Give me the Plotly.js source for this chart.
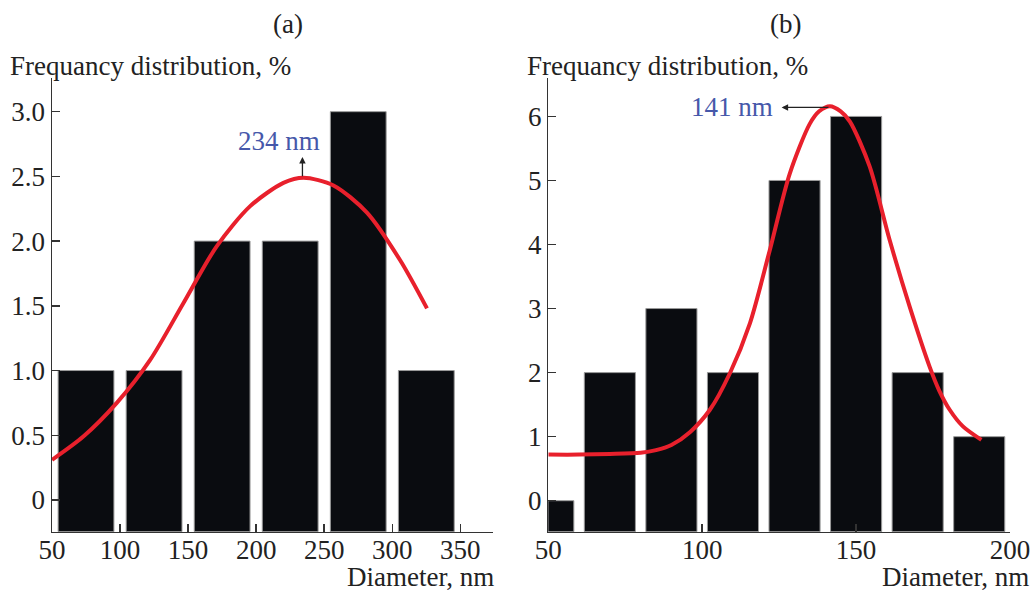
<!DOCTYPE html>
<html>
<head>
<meta charset="utf-8">
<script src="https://cdn.plot.ly/plotly-3.0.1.min.js"></script>
<style>html,body{margin:0;padding:0;background:#fff;}#chart{width:1031px;height:591px;}</style>
</head>
<body>
<div id="chart"></div>
<script>
// ---------- Data ----------
// Panel (a)
const diamA = [75, 125, 175, 225, 275, 325];
const freqA = [1, 1, 2, 2, 3, 1];
const fitXA = [50, 73, 97.6, 122, 146.5, 171, 195.6, 220, 234.8, 256.8, 281.4, 305.9, 325.5];
const fitYA = [0.31, 0.49, 0.75, 1.08, 1.52, 1.96, 2.27, 2.45, 2.49, 2.43, 2.22, 1.85, 1.48];
const xTicksA = [50, 100, 150, 200, 250, 300, 350];
const yTicksA = [0, 0.5, 1.0, 1.5, 2.0, 2.5, 3.0];
const yTickTextA = ['0', '0.5', '1.0', '1.5', '2.0', '2.5', '3.0'];
const peakA = 234;
const peakLabelA = '234 nm';

// Panel (b)
const diamB = [50, 70, 90, 110, 130, 150, 170, 190];
const freqB = [0, 2, 3, 2, 5, 6, 2, 1];
const fitXB = [50, 60, 70, 80, 85, 90, 96, 102.5, 109, 115.5, 122, 128.4, 134.9, 138, 141.5, 145, 148, 154.4, 160.9, 167.4, 173.9, 177, 180.4, 184.7, 190.7];
const fitYB = [0.72, 0.72, 0.73, 0.75, 0.79, 0.87, 1.07, 1.42, 1.99, 2.77, 3.92, 5.1, 5.88, 6.08, 6.16, 6.08, 5.92, 5.22, 4.07, 3.03, 2.09, 1.72, 1.42, 1.16, 0.95];
const xTicksB = [50, 100, 150, 200];
const yTicksB = [0, 1, 2, 3, 4, 5, 6];
const peakB = 141.5;
const peakLabelB = '141 nm';

// ---------- Styling ----------
const FONT = 'Liberation Serif, Times New Roman, serif';
const FS = 27;
const TXT = '#222222';
const BLUE = '#4658aa';
const RED = '#e8202c';
const yRangeA = [-0.245, 3.26];
const yRangeB = [-0.484, 6.6];

const traces = [
  {
    type: 'bar', x: diamA, y: freqA.map(v => v - yRangeA[0]), base: yRangeA[0],
    width: 41, xaxis: 'x', yaxis: 'y',
    marker: {color: '#0a0c10', line: {color: '#9a9a9a', width: 1}},
    hoverinfo: 'skip'
  },
  {
    type: 'scatter', mode: 'lines', x: fitXA, y: fitYA, xaxis: 'x', yaxis: 'y',
    line: {color: RED, width: 4, shape: 'spline', smoothing: 0.8}, hoverinfo: 'skip'
  },
  {
    type: 'bar', x: diamB, y: freqB.map(v => v - yRangeB[0]), base: yRangeB[0],
    width: 16.6, xaxis: 'x2', yaxis: 'y2',
    marker: {color: '#0a0c10', line: {color: '#9a9a9a', width: 1}},
    hoverinfo: 'skip'
  },
  {
    type: 'scatter', mode: 'lines', x: fitXB, y: fitYB, xaxis: 'x2', yaxis: 'y2',
    line: {color: RED, width: 4, shape: 'spline', smoothing: 0.8}, hoverinfo: 'skip'
  }
];

const axisCommon = {
  showline: true, linecolor: '#333', linewidth: 1.5,
  ticks: 'inside', ticklen: 8, tickwidth: 1.5, tickcolor: '#333',
  showgrid: false, zeroline: false, fixedrange: true,
  tickfont: {family: FONT, size: FS, color: TXT}
};

const layout = {
  width: 1031, height: 591,
  margin: {l: 0, r: 0, t: 0, b: 0},
  paper_bgcolor: '#fff', plot_bgcolor: '#fff',
  showlegend: false,
  barmode: 'overlay',
  xaxis: Object.assign({}, axisCommon, {
    domain: [52/1031, 493/1031], range: [50, 374], anchor: 'y',
    tickmode: 'array', tickvals: xTicksA, ticktext: xTicksA.map(String), ticklabelstandoff: -7
  }),
  yaxis: Object.assign({}, axisCommon, {
    domain: [59.3/591, 513/591], range: yRangeA, anchor: 'x',
    tickmode: 'array', tickvals: yTicksA, ticktext: yTickTextA
  }),
  xaxis2: Object.assign({}, axisCommon, {
    domain: [548.3/1031, 1010/1031], range: [50, 200], anchor: 'y2',
    tickmode: 'array', tickvals: xTicksB, ticktext: xTicksB.map(String), ticklabelstandoff: -7
  }),
  yaxis2: Object.assign({}, axisCommon, {
    domain: [59.3/591, 513/591], range: yRangeB, anchor: 'x2',
    tickmode: 'array', tickvals: yTicksB, ticktext: yTicksB.map(String)
  }),
  annotations: [
    // panel titles
    {text: '(a)', xref: 'paper', yref: 'paper', x: 288/1031, y: 1 - 24/591, xanchor: 'center', yanchor: 'middle', showarrow: false, font: {family: FONT, size: FS, color: TXT}},
    {text: '(b)', xref: 'paper', yref: 'paper', x: 785/1031, y: 1 - 24/591, xanchor: 'center', yanchor: 'middle', showarrow: false, font: {family: FONT, size: FS, color: TXT}},
    // y-axis titles
    {text: 'Frequancy distribution, %', xref: 'paper', yref: 'paper', x: 8/1031, y: 1 - 66/591, xanchor: 'left', yanchor: 'middle', showarrow: false, font: {family: FONT, size: FS, color: TXT}},
    {text: 'Frequancy distribution, %', xref: 'paper', yref: 'paper', x: 525/1031, y: 1 - 66/591, xanchor: 'left', yanchor: 'middle', showarrow: false, font: {family: FONT, size: FS, color: TXT}},
    // x-axis titles
    {text: 'Diameter, nm', xref: 'paper', yref: 'paper', x: 496/1031, y: 0, xanchor: 'right', yanchor: 'bottom', yshift: -3, showarrow: false, font: {family: FONT, size: FS, color: TXT}},
    {text: 'Diameter, nm', xref: 'paper', yref: 'paper', x: 1, y: 0, xanchor: 'right', yanchor: 'bottom', yshift: -3, showarrow: false, font: {family: FONT, size: FS, color: TXT}},
    // peak (a): arrow up
    {text: '', x: peakA, y: 2.65, xref: 'x', yref: 'y', ax: peakA, ay: 2.49, axref: 'x', ayref: 'y', showarrow: true, arrowhead: 2, arrowsize: 1, arrowwidth: 1.3, arrowcolor: '#222', standoff: 0, startstandoff: 0},
    {text: peakLabelA, x: 217, y: 2.77, xref: 'x', yref: 'y', xanchor: 'center', yanchor: 'middle', showarrow: false, font: {family: FONT, size: FS, color: BLUE}},
    // peak (b): arrow left
    {text: '', x: 125.8, y: 6.14, xref: 'x2', yref: 'y2', ax: peakB, ay: 6.14, axref: 'x2', ayref: 'y2', showarrow: true, arrowhead: 2, arrowsize: 1, arrowwidth: 1.3, arrowcolor: '#222', standoff: 0, startstandoff: 0},
    {text: peakLabelB, x: 123.5, y: 6.14, xref: 'x2', yref: 'y2', xanchor: 'right', yanchor: 'middle', showarrow: false, font: {family: FONT, size: FS, color: BLUE}}
  ]
};

Plotly.newPlot('chart', traces, layout, {staticPlot: true, displayModeBar: false});
</script>
</body>
</html>
